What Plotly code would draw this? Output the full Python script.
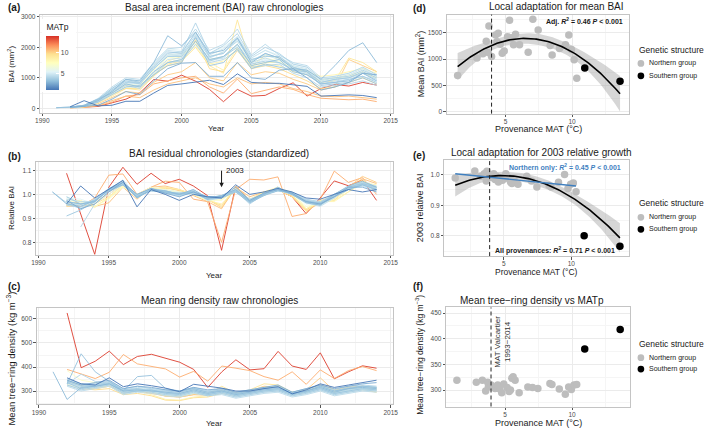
import numpy as np
import plotly.graph_objects as go
from plotly.colors import sample_colorscale

W, H = 709, 430
FONT = "Arial"
N = None

YEARS = list(range(1991, 2015))

# MATp of each provenance chronology (line colour)
SERIES_MAT = [13.6, 11.0, 1.34, 2.85, 3.3, 3.5, 3.7, 3.9, 4.0, 4.2, 4.3, 4.4, 4.5,
              4.6, 4.8, 5.0, 5.3, 5.6, 6.0, 7.2, 8.3, 8.6, 9.3, 9.8, 10.2, 10.5]

# (a) BAI raw chronologies (mm2), 1991-2014
BAI_RAW = [
    [N, 20, 30, 60, 180, 300, 510, 945, 890, 1087, 890, 620, 217, 620, 400, 424, 650, 837, 400, 650, 780, 730, 850, 760],
    [N, N, 30, 80, 200, 400, 450, 800, 900, 1000, 1050, 700, 500, 960, 480, 600, 700, 620, 450, 330, 300, 280, 300, 220],
    [N, 50, 250, 80, 100, 230, 230, 500, 750, 800, 850, 920, 780, 1130, 850, 820, 820, 780, 720, 400, 430, 440, 420, 350],
    [N, 30, 60, 100, 300, 550, 450, 900, 1300, 1480, 1500, 1050, 1050, 1500, 1000, 950, 1250, 1300, 1000, 600, 700, 850, 1150, 1100],
    [N, 40, 80, 250, 550, 950, 900, 1500, 2380, 2050, 2500, 1800, 1900, 2300, 1500, 1800, 1650, 1300, 1250, 950, 1400, 1900, 2150, 1500],
    [20, 40, 100, 300, 500, 800, 700, 1200, 1500, 1600, 2200, 1600, 1700, 2100, 1400, 1500, 1600, 1200, 1100, 800, 850, 900, 1150, 900],
    [N, 30, 60, 200, 450, 700, 750, 1100, 1400, 1500, 2350, 1400, 1500, 1950, 1300, 1450, 1350, 1250, 1200, 750, 800, 850, 1000, 800],
    [N, 30, 80, 280, 650, 950, 850, 1400, 1850, 1800, 2500, 1700, 1800, 2300, 1600, 1700, 1700, 1350, 1200, 850, 950, 1000, 1200, 1000],
    [20, 40, 90, 300, 600, 900, 800, 1300, 1700, 1700, 2300, 1550, 1700, 2000, 1450, 1550, 1500, 1250, 1100, 800, 850, 950, 1050, 850],
    [N, 20, 70, 250, 550, 850, 850, 1350, 1800, 1850, 2800, 1800, 2050, 2450, 1700, 2000, 1800, 1450, 1350, 950, 1000, 1050, 1250, 1050],
    [N, 30, 60, 220, 500, 750, 650, 1100, 1500, 1550, 2100, 1500, 1600, 1900, 1350, 1400, 1450, 1150, 1000, 700, 750, 800, 900, 750],
    [N, 40, 100, 320, 700, 1000, 950, 1500, 1950, 2000, 2600, 1900, 2100, 2600, 1750, 2100, 1750, 1500, 1400, 1000, 1050, 1150, 1350, 1100],
    [N, 30, 80, 250, 600, 850, 800, 1300, 1750, 1750, 2400, 1650, 1850, 2200, 1550, 1800, 1650, 1350, 1250, 850, 950, 1000, 1150, 950],
    [15, 30, 70, 230, 500, 800, 700, 1200, 1600, 1650, 2200, 1600, 1650, 2100, 1500, 1650, 1500, 1300, 1150, 800, 900, 950, 1050, 900],
    [N, 40, 90, 300, 650, 900, 850, 1450, 1900, 1850, 2450, 1750, 1950, 2350, 1650, 1900, 1700, 1400, 1300, 900, 1000, 1100, 1300, 1050],
    [N, 30, 80, 260, 550, 800, 800, 1300, 1700, 1750, 2300, 1700, 1800, 2250, 1600, 1750, 1600, 1350, 1200, 850, 950, 1000, 1150, 950],
    [N, 20, 60, 200, 450, 700, 700, 1150, 1500, 1600, 2100, 1550, 1650, 2050, 1450, 1600, 1500, 1250, 1150, 800, 850, 900, 1050, 850],
    [N, 40, 100, 300, 650, 950, 900, 1500, 1950, 1900, 2450, 1800, 2000, 2350, 1650, 1900, 1750, 1450, 1350, 950, 1050, 1150, 1350, 1100],
    [N, 30, 90, 280, 600, 850, 850, 1400, 1750, 1800, 2300, 1700, 1850, 2200, 1550, 1750, 1600, 1400, 1250, 900, 950, 1050, 1250, 1000],
    [N, 30, 80, 250, 550, 800, 750, 1250, 1650, 1700, 2200, 1600, 1700, 2100, 1500, 1650, 1550, 1300, 1250, 950, 1000, 1100, 1200, 1000],
    [N, 20, 60, 200, 450, 700, 650, 1100, 1500, 1600, 2050, 1450, 1550, 1950, 1400, 1500, 1500, 1300, 1200, 1050, 1100, 1200, 1300, 1150],
    [N, 30, 70, 220, 500, 750, 700, 1150, 1550, 1700, 2150, 1500, 1250, 2000, 1350, 1450, 1400, 1200, 1100, 900, 1000, 1050, 1150, 1000],
    [N, 20, 50, 180, 400, 650, 600, 1050, 1450, 1550, 2000, 1400, 1150, 2900, 1350, 1750, 1650, 1350, 1150, 850, 900, 1650, 1500, 1200],
    [N, 30, 60, 200, 450, 650, 650, 1100, 1400, 1500, 2250, 1300, 1200, 1900, 1300, 1400, 1300, 1100, 900, 650, 700, 850, 1000, 800],
    [N, 20, 50, 150, 350, 550, 500, 850, 1100, 1200, 1500, 1000, 900, 1500, 1100, 1200, 1150, 950, 800, 600, 700, 1600, 1400, 1200],
    [N, 10, 30, 100, 250, 400, 350, 600, 800, 900, 1000, 800, 700, 1000, 800, 850, 800, 650, 550, 400, 380, 400, 350, 300],
]

# (b) BAI residual chronologies (relative BAI), 1991-2014
BAI_RESID = [
    [N, 1.088, 0.92, 0.75, 1.03, 1.113, 1.042, 1.088, 1.045, 1.063, 1.035, 0.995, 0.767, 1.035, 0.975, 1.01, 1.02, 0.99, 0.92, 0.985, 1.056, 1.036, 1.06, 0.975],
    [N, 0.952, 0.95, 0.985, 1.08, 1.085, 1.0, 1.03, 1.055, 1.05, 0.98, 0.97, 0.80, 1.02, 1.063, 1.06, 1.073, 0.908, 0.92, 0.978, 1.097, 1.05, 1.07, 1.0],
    [N, 0.96, 1.035, 0.985, 1.02, 1.058, 0.948, 1.02, 1.0, 0.975, 1.0, 0.99, 0.985, 1.04, 1.0, 1.01, 1.025, 1.01, 0.985, 0.98, 1.0, 1.02, 1.01, 1.02],
    [N, 0.975, 0.94, 0.96, 1.01, 1.05, 1.0, 1.025, 1.005, 0.99, 1.01, 0.99, 0.99, 1.03, 0.975, 1.005, 1.02, 1.005, 0.97, 0.96, 0.99, 1.03, 1.03, 1.01],
    [N, 0.97, 0.96, 0.97, 1.02, 1.05, 0.985, 1.02, 1.015, 1.0, 1.02, 0.985, 0.995, 1.02, 0.97, 1.0, 1.03, 1.0, 0.965, 0.955, 1.0, 1.035, 1.055, 1.03],
    [1.01, 0.96, 0.95, 0.975, 1.015, 1.04, 0.99, 1.015, 1.01, 1.0, 1.01, 0.98, 0.985, 1.01, 0.965, 0.995, 1.015, 1.005, 0.97, 0.96, 0.99, 1.02, 1.04, 1.02],
    [N, 0.91, 0.935, 0.97, 1.02, 1.04, 0.99, 1.02, 1.01, 1.0, 1.015, 0.98, 0.99, 1.015, 0.97, 1.0, 1.02, 1.0, 0.97, 0.965, 1.0, 1.03, 1.045, 1.03],
    [N, 0.99, 0.96, 0.97, 1.02, 1.05, 0.995, 1.025, 1.01, 1.005, 1.01, 0.985, 0.99, 1.02, 0.975, 1.005, 1.02, 1.005, 0.975, 0.96, 0.995, 1.025, 1.04, 1.02],
    [1.01, 0.965, 0.94, 0.97, 1.025, 1.045, 0.985, 1.02, 1.015, 1.0, 1.005, 0.98, 0.995, 1.02, 0.97, 0.995, 1.025, 1.0, 0.97, 0.955, 0.99, 1.02, 1.045, 1.025],
    [N, 0.955, 0.945, 0.98, 1.02, 1.06, 0.99, 1.02, 1.005, 1.0, 1.02, 0.985, 0.985, 1.015, 0.96, 1.0, 1.015, 1.01, 0.98, 0.97, 1.0, 1.03, 1.05, 1.03],
    [N, N, 0.864, 0.96, 1.01, 1.04, 0.99, 1.015, 1.01, 0.995, 1.01, 0.99, 0.985, 1.02, 0.98, 1.0, 1.02, 1.005, 0.975, 0.965, 0.995, 1.02, 1.04, 1.02],
    [N, 0.97, 0.96, 0.975, 1.02, 1.05, 0.995, 1.02, 1.01, 1.005, 1.01, 0.985, 0.99, 1.02, 0.975, 1.0, 1.025, 1.0, 0.97, 0.96, 0.99, 1.03, 1.045, 1.02],
    [N, 0.98, 0.97, 0.97, 1.015, 1.045, 1.0, 1.02, 1.005, 0.995, 1.005, 0.98, 0.995, 1.01, 0.97, 1.005, 1.02, 1.005, 0.975, 0.965, 1.0, 1.025, 1.035, 1.015],
    [N, 0.96, 0.955, 0.98, 1.025, 1.055, 0.985, 1.025, 1.015, 1.0, 1.015, 0.975, 0.985, 1.02, 0.965, 0.995, 1.02, 1.0, 0.965, 0.95, 0.985, 1.03, 1.05, 1.035],
    [N, 0.975, 0.95, 0.97, 1.02, 1.04, 0.99, 1.015, 1.01, 1.005, 1.01, 0.99, 0.99, 1.02, 0.975, 1.0, 1.015, 1.005, 0.98, 0.965, 0.995, 1.02, 1.04, 1.02],
    [N, 0.965, 0.96, 0.975, 1.02, 1.05, 0.99, 1.02, 1.01, 1.0, 1.01, 0.985, 0.99, 1.015, 0.97, 1.0, 1.02, 1.0, 0.97, 0.96, 0.995, 1.025, 1.045, 1.025],
    [N, 0.97, 0.955, 0.97, 1.02, 1.045, 0.995, 1.02, 1.015, 1.005, 1.01, 0.985, 0.995, 1.015, 0.97, 1.0, 1.02, 1.005, 0.975, 0.96, 0.99, 1.025, 1.04, 1.02],
    [N, 0.985, 0.98, 0.96, 1.0, 1.04, 0.995, 1.025, 1.005, 1.0, 1.0, 0.985, 0.995, 1.01, 0.98, 1.0, 1.03, 1.0, 0.96, 0.96, 0.99, 1.02, 1.04, 1.02],
    [N, 0.99, 0.965, 0.965, 1.025, 1.04, 0.985, 1.02, 1.02, 1.01, 1.005, 0.975, 0.985, 1.025, 0.97, 1.005, 1.015, 1.0, 0.97, 0.955, 0.985, 1.03, 1.05, 1.03],
    [N, 0.98, 0.97, 0.95, 0.98, 1.03, 1.0, 1.03, 1.02, 1.01, 1.0, 0.975, 0.975, 1.02, 0.975, 1.0, 1.02, 1.0, 0.95, 0.96, 0.98, 1.02, 1.04, 1.03],
    [N, 0.97, 0.975, 0.945, 0.99, 1.035, 0.99, 1.025, 1.015, 1.01, 1.0, 0.98, 0.98, 1.01, 0.97, 1.01, 1.025, 1.01, 0.94, 0.97, 0.97, 1.01, 1.05, 1.04],
    [N, 0.955, 0.96, 0.95, 0.985, 1.03, 1.0, 1.02, 1.03, 1.02, 1.0, 0.975, 0.96, 1.02, 0.98, 1.01, 1.03, 1.0, 0.93, 0.975, 0.975, 1.01, 1.045, 1.03],
    [N, 0.96, 0.97, 0.96, 0.99, 1.04, 0.995, 1.02, 1.02, 1.01, 1.0, 0.98, 0.95, 1.035, 0.975, 1.01, 1.02, 0.99, 0.94, 0.97, 0.98, 1.02, 1.06, 1.02],
    [N, 0.95, 0.96, 0.97, 1.0, 1.04, 0.99, 1.025, 1.025, 1.02, 1.0, 0.975, 0.955, 1.02, 0.97, 1.0, 1.03, 1.0, 0.93, 0.975, 0.99, 1.025, 1.055, 1.03],
    [N, 0.97, 0.95, 0.96, 1.0, 1.045, 0.985, 1.02, 1.03, 1.015, 1.0, 0.98, 0.945, 1.025, 0.98, 1.005, 1.025, 0.995, 0.935, 0.97, 0.975, 1.03, 1.075, 1.05],
    [N, 0.955, 0.97, 0.95, 0.965, 1.03, 0.98, 1.03, 1.035, 1.02, 0.995, 0.97, 0.94, 1.03, 0.99, 1.01, 1.02, 0.99, 0.93, 0.965, 0.98, 1.03, 1.065, 1.045],
]

# (c) mean ring density raw chronologies (kg m-3), 1991-2014
DENSITY = [
    [N, 625, 397, 424, 466, 410, 444, 453, 435, 420, 390, 315, 380, 430, 388, 393, 465, 404, 390, 459, 351, 380, 405, 395],
    [N, 390, 372, 352, 378, 452, 413, 402, 392, 358, 382, 341, 404, 395, 385, 360, 345, 380, 328, 388, 352, 385, 402, 385],
    [N, 355, 330, 325, 355, 318, 330, 322, 312, 297, 328, 320, 312, 300, 300, 310, 318, 288, 305, 330, 315, 325, 335, 345],
    [N, 345, 325, 335, 345, 310, 320, 315, 305, 300, 315, 305, 310, 295, 305, 315, 325, 295, 310, 325, 310, 320, 330, 335],
    [380, 265, 315, 320, 330, 300, 305, 300, 295, 290, 305, 290, 300, 285, 295, 305, 310, 290, 300, 315, 295, 310, 315, 310],
    [N, 330, 455, 380, 340, 300, 360, 365, 310, 300, 310, 295, 305, 290, 300, 310, 315, 290, 300, 320, 300, 310, 320, 315],
    [N, 335, 310, 320, 330, 295, 300, 305, 290, 285, 300, 285, 295, 280, 290, 300, 305, 285, 295, 310, 290, 300, 310, 305],
    [N, 340, 320, 325, 335, 305, 310, 300, 300, 295, 310, 295, 300, 290, 295, 310, 315, 290, 300, 320, 300, 315, 320, 315],
    [N, 325, 305, 315, 325, 290, 300, 295, 285, 280, 295, 280, 290, 275, 285, 295, 300, 280, 290, 305, 285, 295, 305, 300],
    [N, 350, 330, 330, 340, 310, 320, 310, 305, 300, 315, 300, 310, 295, 305, 315, 320, 295, 310, 325, 305, 320, 325, 320],
    [N, 330, 370, 340, 330, 300, 305, 300, 290, 290, 300, 285, 295, 285, 290, 300, 305, 285, 295, 310, 290, 300, 310, 305],
    [N, 345, 325, 320, 330, 300, 310, 305, 295, 290, 305, 290, 300, 285, 295, 305, 310, 290, 300, 315, 295, 305, 315, 310],
    [N, 320, 300, 310, 320, 285, 295, 290, 280, 275, 290, 280, 285, 270, 280, 290, 295, 275, 285, 300, 280, 290, 300, 295],
    [N, 335, 315, 325, 340, 305, 315, 310, 300, 295, 310, 300, 305, 290, 300, 310, 315, 295, 305, 320, 300, 310, 320, 315],
    [N, 340, 320, 320, 335, 300, 305, 305, 295, 285, 300, 290, 300, 280, 290, 300, 310, 285, 295, 310, 290, 305, 315, 305],
    [N, 325, 310, 315, 325, 290, 300, 295, 285, 285, 295, 285, 290, 275, 285, 295, 300, 280, 290, 305, 285, 295, 305, 300],
    [N, 330, 315, 320, 330, 295, 305, 300, 290, 285, 300, 285, 295, 280, 290, 300, 305, 285, 295, 305, 290, 300, 305, 300],
    [N, 335, 320, 315, 325, 295, 300, 300, 285, 280, 295, 285, 295, 280, 290, 305, 310, 290, 295, 310, 290, 300, 310, 305],
    [N, 340, 330, 325, 335, 300, 310, 305, 295, 290, 305, 290, 300, 285, 295, 310, 315, 290, 300, 315, 295, 305, 315, 310],
    [N, 385, 345, 335, 330, 300, 305, 295, 285, 280, 290, 285, 300, 290, 300, 310, 315, 290, 300, 320, 300, 310, 315, 310],
    [N, 340, 325, 320, 325, 300, 310, 300, 285, 285, 295, 290, 300, 290, 300, 315, 320, 295, 305, 315, 295, 305, 310, 305],
    [N, 330, 310, 310, 320, 290, 300, 285, 265, 262, 275, 280, 295, 285, 295, 310, 310, 290, 300, 310, 295, 305, 310, 300],
    [N, 345, 320, 315, 325, 295, 305, 295, 280, 278, 290, 285, 320, 290, 305, 330, 325, 295, 305, 325, 305, 315, 320, 310],
    [N, 325, 310, 305, 310, 285, 290, 280, 262, 260, 272, 275, 290, 280, 290, 305, 310, 285, 295, 310, 295, 300, 305, 295],
    [N, 340, 315, 310, 320, 290, 300, 295, 278, 275, 285, 282, 305, 285, 300, 320, 315, 290, 305, 355, 300, 310, 315, 305],
    [N, 335, 325, 315, 320, 295, 300, 290, 280, 275, 285, 285, 300, 290, 300, 315, 320, 295, 305, 325, 305, 315, 320, 310],
]

# provenance-level values (d, e, f)
NORTH_MAT = [1.4, 2.85, 3.3, 3.55, 3.7, 3.75, 3.95, 4.25, 4.35, 4.45, 4.6, 4.75, 4.9, 5.15, 5.3, 5.4,
             5.5, 5.6, 5.75, 6.05, 6.7, 7.05, 7.45, 8.35, 8.5, 9.05, 9.5, 9.75, 9.95, 10.15, 10.35]
NORTH_BAI = [690, 1020, 1100, 1340, 1125, 1625, 1050, 1455, 1330, 1490, 1280, 1110, 1155, 1425, 1735, 1395,
             1405, 1270, 1470, 1270, 1130, 1755, 1550, 1260, 1080, 1200, 1270, 1455, 1180, 990, 640]
NORTH_REL2003 = [0.989, 1.012, 0.995, 1.003, 0.979, 1.011, 0.99, 1.003, 0.984, 0.995, 0.976, 0.99, 0.982, 1.003, 0.992, 0.985,
                 0.976, 0.971, 0.984, 0.969, 0.995, 0.979, 0.96, 0.965, 0.96, 0.975, 1.001, 0.955, 0.969, 0.973, 0.944]
NORTH_DENS = [319, 315, 319, 298, 315, 306, 310, 303, 306, 310, 302, 295, 312, 305, 297, 300,
              323, 326, 319, 295, 306, 305, 303, 313, 311, 302, 292, 306, 301, 310, 311]
SOUTH_MAT = [10.95, 13.6]
SOUTH_BAI = [830, 580]
SOUTH_REL2003 = [0.80, 0.766]
SOUTH_DENS = [380, 418]
MAT_VALCARTIER = 3.95

RDYLBU = [[0.0, '#4575b4'], [1/6, '#91bfdb'], [2/6, '#e0f3f8'], [0.5, '#ffffbf'],
          [4/6, '#fee090'], [5/6, '#fc8d59'], [1.0, '#d73027']]
CMIN, CMAX = 1.3, 13.9

GRID = '#ebebeb'
MINOR = '#f5f5f5'
BORDER = '#c4c4c4'
TICKF = dict(size=6.5, color='#4d4d4d', family=FONT)


def xdom(a, b):
    return [a / W, b / W]


def ydom(top, bottom):
    return [1 - bottom / H, 1 - top / H]


def axis(dom, rng, tick0, dtick, anchor, fmt=None, standoff=0):
    d = dict(domain=dom, range=rng, anchor=anchor, tickmode='linear', tick0=tick0, dtick=dtick,
             showline=True, mirror=True, linecolor=BORDER, linewidth=1,
             ticks='outside', ticklen=2.5, tickwidth=0.8, tickcolor='#555', ticklabelstandoff=standoff,
             tickfont=TICKF, showgrid=True, gridcolor=GRID, gridwidth=0.8, zeroline=False,
             minor=dict(tick0=tick0, dtick=dtick / 2, showgrid=True, gridcolor=MINOR, gridwidth=0.5))
    if fmt:
        d['tickformat'] = fmt
    return d


fig = go.Figure()

# ---- chronology panels (a, b, c): warm provenances drawn first, cold ones on top
order = sorted(range(len(SERIES_MAT)), key=lambda i: -SERIES_MAT[i])
for data, xa, ya in [(BAI_RAW, 'x', 'y'), (BAI_RESID, 'x2', 'y2'), (DENSITY, 'x3', 'y3')]:
    for i in order:
        col = sample_colorscale(RDYLBU, [(SERIES_MAT[i] - CMIN) / (CMAX - CMIN)])[0]
        fig.add_trace(go.Scatter(x=YEARS, y=data[i], mode='lines', xaxis=xa, yaxis=ya,
                                 line=dict(color=col, width=0.9), connectgaps=False,
                                 showlegend=False, hoverinfo='skip'))

# colour bar for MATp
fig.add_trace(go.Scatter(
    x=[None, None], y=[None, None], mode='markers', xaxis='x', yaxis='y', showlegend=False, hoverinfo='skip',
    marker=dict(color=[CMIN, CMAX], colorscale=RDYLBU, cmin=CMIN, cmax=CMAX, showscale=True, size=1,
                colorbar=dict(title=dict(text='MATp', side='top', font=dict(size=8.5, color='#1a1a1a', family=FONT)),
                              thickness=12.5, len=73, lenmode='pixels', x=38 / W, xanchor='left',
                              y=1 - 17 / H, yanchor='top', tickvals=[5, 10], ticks='inside', ticklen=3,
                              tickcolor='white', tickfont=dict(size=6.8, color='#4d4d4d', family=FONT),
                              outlinewidth=0, bgcolor='white', xpad=4, ypad=2))))


# ---- provenance panels (d, e, f)
T_CRIT = 2.04


def poly_fit(x, y, xs, deg=2):
    x = np.asarray(x, float)
    y = np.asarray(y, float)
    X = np.vander(x, deg + 1)
    coef = np.linalg.lstsq(X, y, rcond=None)[0]
    Xs = np.vander(xs, deg + 1)
    fit = Xs @ coef
    res = y - X @ coef
    s2 = res @ res / (len(x) - deg - 1)
    cov = s2 * np.linalg.inv(X.T @ X)
    se = np.sqrt(np.einsum('ij,jk,ik->i', Xs, cov, Xs))
    return fit, fit - T_CRIT * se, fit + T_CRIT * se


ALL_MAT = NORTH_MAT + SOUTH_MAT
xs_all = np.linspace(min(ALL_MAT), max(ALL_MAT), 100)
xs_north = np.linspace(min(NORTH_MAT), max(NORTH_MAT), 100)

for vals_n, vals_s, xa, ya, band in [(NORTH_BAI, SOUTH_BAI, 'x4', 'y4', True),
                                     (NORTH_REL2003, SOUTH_REL2003, 'x5', 'y5', True),
                                     (NORTH_DENS, SOUTH_DENS, 'x6', 'y6', False)]:
    if band:
        fit, lo, hi = poly_fit(ALL_MAT, vals_n + vals_s, xs_all)
        fig.add_trace(go.Scatter(x=xs_all, y=lo, mode='lines', line=dict(width=0), xaxis=xa, yaxis=ya,
                                 showlegend=False, hoverinfo='skip'))
        fig.add_trace(go.Scatter(x=xs_all, y=hi, mode='lines', line=dict(width=0), fill='tonexty',
                                 fillcolor='rgba(153,153,153,0.4)', xaxis=xa, yaxis=ya,
                                 showlegend=False, hoverinfo='skip'))
    fig.add_trace(go.Scatter(x=NORTH_MAT, y=vals_n, mode='markers', xaxis=xa, yaxis=ya,
                             marker=dict(color='#bdbdbd', size=7.5), showlegend=False, hoverinfo='skip'))
    fig.add_trace(go.Scatter(x=SOUTH_MAT, y=vals_s, mode='markers', xaxis=xa, yaxis=ya,
                             marker=dict(color='black', size=7.5), showlegend=False, hoverinfo='skip'))
    if band:
        fig.add_trace(go.Scatter(x=xs_all, y=fit, mode='lines', line=dict(color='black', width=1.6),
                                 xaxis=xa, yaxis=ya, showlegend=False, hoverinfo='skip'))

# northern-only fit in (e)
fit_n, _, _ = poly_fit(NORTH_MAT, NORTH_REL2003, xs_north)
fig.add_trace(go.Scatter(x=xs_north, y=fit_n, mode='lines', line=dict(color='#3f7fbf', width=1.4),
                         xaxis='x5', yaxis='y5', showlegend=False, hoverinfo='skip'))

shapes = []
for xa, ya in [('x4', 'y4'), ('x5', 'y5'), ('x6', 'y6')]:
    shapes.append(dict(type='line', xref=xa, yref=ya + ' domain', x0=MAT_VALCARTIER, x1=MAT_VALCARTIER,
                       y0=0, y1=1, line=dict(color='#222', width=1, dash='4px,3px')))

XR = [1989.85, 2015.15]
MR = [0.6, 14.3]
layout = dict(
    width=W, height=H, margin=dict(l=0, r=0, t=0, b=0), paper_bgcolor='white', plot_bgcolor='white',
    font=dict(family=FONT, color='#1a1a1a'), showlegend=False,
    xaxis=axis(xdom(35.7, 393.3), XR, 1990, 5, 'y', standoff=-1),
    yaxis=axis(ydom(13.3, 111.7), [-143, 3055], 0, 1000, 'x'),
    xaxis2=axis(xdom(31.7, 393.3), XR, 1990, 5, 'y2', standoff=-1),
    yaxis2=axis(ydom(161, 255), [0.749, 1.137], 0.8, 0.1, 'x2', '.1f'),
    xaxis3=axis(xdom(32.3, 393.3), XR, 1990, 5, 'y3', standoff=-1),
    yaxis3=axis(ydom(309.3, 406), [245, 644], 300, 100, 'x3'),
    xaxis4=axis(xdom(448.3, 633.3), MR, 5, 5, 'y4', standoff=-1),
    yaxis4=axis(ydom(12.7, 112.7), [-32, 1843], 0, 500, 'x4'),
    xaxis5=axis(xdom(445.7, 633.3), MR, 5, 5, 'y5', standoff=-1),
    yaxis5=axis(ydom(159, 256.5), [0.7336, 1.0496], 0.8, 0.1, 'x5', '.1f'),
    xaxis6=axis(xdom(447.5, 633.5), MR, 5, 5, 'y6', standoff=-1),
    yaxis6=axis(ydom(308.3, 408.3), [268, 461], 300, 50, 'x6'),
    shapes=shapes,
)


def ann(text, px, py, size, xanchor='center', yanchor='middle', color='#1a1a1a', angle=0):
    return dict(text=text, x=px / W, y=1 - py / H, xref='paper', yref='paper', showarrow=False,
                xanchor=xanchor, yanchor=yanchor, textangle=angle,
                font=dict(size=size, color=color, family=FONT))


anns = []
# panel labels
for lab, px, py in [('(a)', 1, 5.5), ('(b)', 1, 156), ('(c)', 1, 287), ('(d)', 412, 7), ('(e)', 412, 155), ('(f)', 412, 287)]:
    anns.append(ann('<b>' + lab + '</b>', px, py, 10, xanchor='left'))
# titles
for txt, px, py in [('Basal area increment (BAI) raw chronologies', 222, 5.5),
                    ('BAI residual chronologies (standardized)', 217.5, 152.7),
                    ('Mean ring density raw chronologies', 218, 301.7),
                    ('Local adaptation for mean BAI', 559, 4.5),
                    ('Local adaptation for 2003 relative growth', 544, 151.7),
                    ('Mean tree\u2212ring density vs MATp', 534.5, 301.7)]:
    anns.append(ann(txt, px, py, 10))
# axis titles
anns += [
    ann('BAI (mm<sup>2</sup>)', 6, 62.5, 8, angle=-90),
    ann('Year', 214.5, 128, 8),
    ann('Relative BAI', 6, 208, 8, angle=-90),
    ann('Year', 212.5, 276.5, 8),
    ann('Mean tree\u2212ring density (kg m<sup>\u22123</sup>)', 6, 360, 9.5, angle=-90),
    ann('Year', 212.8, 425, 8),
    ann('Mean BAI (mm<sup>2</sup>)', 421, 62.7, 9, angle=-90),
    ann('Provenance MAT (\u00b0C)', 541, 128.5, 9),
    ann('2003 relative BAI', 421, 208, 9, angle=-90),
    ann('Provenance MAT (\u00b0C)', 539.5, 272.5, 8.5),
    ann('Mean tree\u2212ring density (kg m<sup>\u22123</sup>)', 421, 356, 8.5, angle=-90),
    ann('Provenance MAT (\u00b0C)', 541, 425.3, 9),
]
# statistics text
anns += [
    ann('<b>Adj. <i>R</i><sup>2</sup> = 0.46 <i>P</i> &lt; 0.001</b>', 587.5, 19.3, 7),
    ann('<b>Northern only: <i>R</i><sup>2</sup> = 0.45 <i>P</i> &lt; 0.001</b>', 568, 166.7, 7, color='#3f7fbf'),
    ann('<b>All provenances: <i>R</i><sup>2</sup> = 0.71 <i>P</i> &lt; 0.001</b>', 558, 250.5, 7),
    ann('MAT Valcartier<br>1993\u22122014', 505, 343, 8, color='#333', angle=-90),
]
# 2003 arrow in (b)
anns.append(dict(x=2003, y=1.03, xref='x2', yref='y2', ax=2003, ay=1.105, axref='x2', ayref='y2',
                 text='', showarrow=True, arrowhead=2, arrowsize=0.9, arrowwidth=1, arrowcolor='#1a1a1a'))
anns.append(dict(text='2003', x=2003.2, y=1.1, xref='x2', yref='y2', showarrow=False, xanchor='left',
                 yanchor='middle', font=dict(size=8, color='#1a1a1a', family=FONT)))

# legends (genetic structure) drawn for each provenance panel
for ty, i1, i2 in [(48.3, 62, 74.5), (203.3, 217.3, 229.5), (345, 359, 370.5)]:
    anns.append(ann('Genetic structure', 641.5, ty, 8.5, xanchor='left'))
    anns.append(ann('Northern group', 651.5, i1, 7, xanchor='left'))
    anns.append(ann('Southern group', 651.5, i2, 7, xanchor='left'))
    for cy, colr in [(i1, '#bdbdbd'), (i2, 'black')]:
        r = 3.4
        layout['shapes'].append(dict(type='circle', xref='paper', yref='paper',
                                     x0=(645 - r) / W, x1=(645 + r) / W, y0=1 - (cy + r) / H, y1=1 - (cy - r) / H,
                                     fillcolor=colr, line=dict(width=0)))

layout['annotations'] = anns
fig.update_layout(**layout)
fig.write_html('out.html', config={'displayModeBar': False},
               post_script="document.body.style.margin='0';document.body.style.overflow='hidden';")
